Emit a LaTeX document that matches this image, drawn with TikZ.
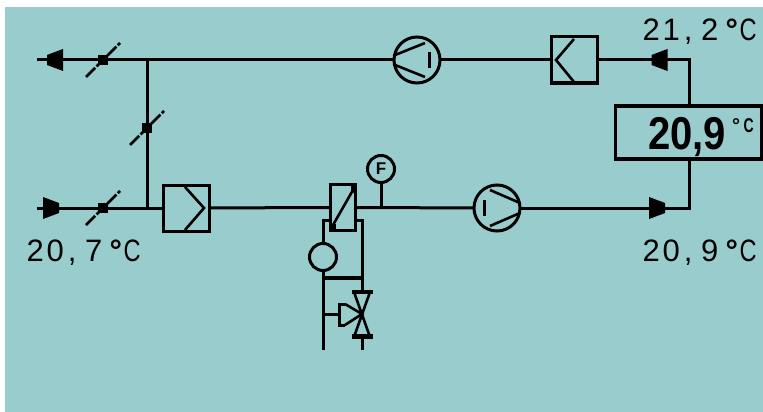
\documentclass[tikz,border=0pt]{standalone}
\usepackage{fontspec}
\setmainfont{Liberation Sans}
\newfontfamily\lcd{Liberation Sans}
\definecolor{lcdbg}{HTML}{99CCCC}
\newcommand{\rdout}[4]{\makebox[20pt]{#1}\makebox[20pt]{#2}\makebox[14pt]{#3}\makebox[29pt]{#4}\makebox[15pt]{\bfseries °}\makebox[18pt]{\scalebox{.76}[1]{C}}}
\tikzset{
  pipe/.style={line width=3pt,draw=black},
  thin symbol/.style={line width=2.6pt,draw=black},
  box symbol/.style={line width=3pt,draw=black,minimum width=46pt,minimum height=46pt,inner sep=0pt,outer sep=0pt,shape=rectangle},
  round symbol/.style={line width=3pt,draw=black,circle,inner sep=0pt,outer sep=0pt},
  reading/.style={inner sep=0pt,font=\lcd\fontsize{31}{31}\selectfont,anchor=base west},
  damper/.pic={\fill[black] (-5,-5) rectangle (5,5);\draw[line width=2.6pt,dash pattern=on 13pt off 2pt] (-17,17) -- (17,-17);},
  leftflow/.pic={\fill[black] (8,-11) -- (8,11) -- (-8,5) -- (-8,-5) -- cycle;},
  rightflow/.pic={\fill[black] (-8,-11) -- (-8,11) -- (8,5) -- (8,-5) -- cycle;}
}
\begin{document}
\begin{tikzpicture}[x=1pt,y=-1pt]
\useasboundingbox (0,0) rectangle (763,412);
\fill[lcdbg] (5,7) rectangle (763,412);
% named anchors
\coordinate (topL) at (37,60);
\coordinate (botL) at (37,208);
\coordinate (topJ) at (147,60);
\coordinate (botJ) at (147,208);
\coordinate (topR) at (689,60);
\coordinate (botR) at (689,208);
\coordinate (sJ) at (381,208);
\coordinate (hxLs) at (323,220);
\coordinate (hxRs) at (362,220);
\coordinate (lEnd) at (323,350);
\coordinate (rEnd) at (362,350);
\coordinate (crossL) at (323,278);
\coordinate (crossR) at (362,278);
\coordinate (actJ) at (323,314);
% components
\node[box symbol] (outbox) at (574.5,60) {};
\node[box symbol] (inbox) at (186,208) {};
\node[round symbol,minimum size=46pt] (fantop) at (417,60) {};
\node[round symbol,minimum size=46pt] (fanbot) at (497,208) {};
\node[line width=3pt,draw=black,minimum width=25pt,minimum height=46pt,inner sep=0pt,outer sep=0pt] (hx) at (343,207.5) {};
\node[round symbol,minimum size=27pt,font=\lcd\bfseries\fontsize{17}{17}\selectfont] (sensor) at (381,169) {F};
\node[round symbol,minimum size=27pt] (pumpf) at (323,257) {};
\node[line width=3.5pt,draw=black,minimum width=146pt,minimum height=53pt,inner sep=0pt,outer sep=0pt] (disp) at (688.5,132.5) {};
\coordinate (valveT) at (362,292);
\coordinate (valveB) at (362,337);
\coordinate (act) at (339,314);
% connectors
\draw[pipe] (topL) -- (fantop);
\draw[pipe] (fantop) -- (outbox);
\draw[pipe] (outbox) -- (topR) -- (disp.north -| topR);
\draw[pipe] (disp.south -| botR) -- (botR) -- (fanbot);
\draw[pipe] (fanbot) -- (hx);
\draw[pipe] (hx) -- (inbox);
\draw[pipe] (inbox) -- (botL);
\draw[pipe] (topJ) -- (botJ);
\draw[pipe] (sJ) -- (sensor);
\draw[pipe] (hx.west |- hxLs) -- (hxLs) -- (pumpf);
\draw[pipe] (pumpf) -- (lEnd);
\draw[pipe] (hx.east |- hxRs) -- (hxRs) -- (valveT);
\draw[pipe] (valveB) -- (rEnd);
\draw[line width=4pt] (crossL) -- (crossR);
\draw[pipe] (actJ) -- (act);
% symbol interiors
\draw[thin symbol] (185,187) -- (204,208) -- (185,230);
\draw[thin symbol] (574,39) -- (556,60) -- (574,82);
\draw[thin symbol] (395,55) -- (425,43) (395,65) -- (425,77);
\draw[line width=3pt] (429,52) -- (429,68);
\draw[thin symbol] (490,190) -- (520,203) (490,226) -- (520,213);
\draw[line width=3pt] (484,200) -- (484,216);
\draw[thin symbol] (353,190) -- (333,225);
\fill[black] (351,185) rectangle (356,193);
\fill[black] (330,224) rectangle (336,231);
\fill[black] (352,290) rectangle (373,294);
\fill[black] (352,334) rectangle (373,339);
\draw[thin symbol] (354,292) -- (370,337) -- (355,337);
\draw[thin symbol] (370,292) -- (354,337) -- (370,337);
\draw[line width=3pt] (345,304) -- (339,304) -- (339,325) -- (345,325);
\draw[thin symbol] (345,304) -- (362,314) -- (345,325);
% valves and flow marks
\pic at (103,60) {damper};
\pic at (103,208) {damper};
\pic at (147,128) {damper};
\pic at (55,60) {leftflow};
\pic at (659.5,60) {leftflow};
\pic at (51,208) {rightflow};
\pic at (657,208) {rightflow};
% readings
\node[reading] (t1) at (25,261) {\rdout{2}{0}{,}{7}};
\node[reading] (t2) at (641,41) {\rdout{2}{1}{,}{2}};
\node[reading] (t3) at (641,261) {\rdout{2}{0}{,}{9}};
\node[inner sep=0pt,anchor=base west,xscale=.87,font=\lcd\bfseries\fontsize{46}{46}\selectfont] (t4) at (648,149) {20,9};
\node[inner sep=0pt,anchor=base west,font=\lcd\bfseries\fontsize{20}{20}\selectfont] (t5) at (732,132) {°\,\scalebox{.7}[1]{C}};
\end{tikzpicture}
\end{document}
